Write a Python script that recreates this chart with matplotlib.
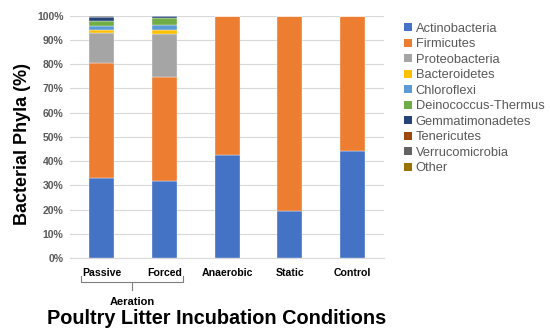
import matplotlib.pyplot as plt
import numpy as np
from matplotlib.patches import Patch

plt.rcParams['font.family'] = ['Liberation Sans', 'DejaVu Sans']

# categories and stacked values (% of phyla)
conditions = ['Passive', 'Forced', 'Anaerobic', 'Static', 'Control']
phyla = ['Actinobacteria', 'Firmicutes', 'Proteobacteria', 'Bacteroidetes',
         'Chloroflexi', 'Deinococcus-Thermus', 'Gemmatimonadetes',
         'Tenericutes', 'Verrucomicrobia', 'Other']
actinobacteria = [33.0, 31.8, 42.5, 19.5, 44.2]
firmicutes = [47.6, 42.9, 57.5, 80.5, 55.8]
proteobacteria = [12.1, 17.6, 0, 0, 0]
bacteroidetes = [1.3, 1.7, 0, 0, 0]
chloroflexi = [1.9, 2.0, 0, 0, 0]
deinococcus = [1.9, 3.0, 0, 0, 0]
gemmatimonadetes = [1.5, 0.7, 0, 0, 0]
tenericutes = [0.3, 0.1, 0, 0, 0]
verrucomicrobia = [0.2, 0.1, 0, 0, 0]
other = [0.2, 0.1, 0, 0, 0]

series = [actinobacteria, firmicutes, proteobacteria, bacteroidetes, chloroflexi,
          deinococcus, gemmatimonadetes, tenericutes, verrucomicrobia, other]
colors = ['#4472C4', '#ED7D31', '#A5A5A5', '#FFC000', '#5B9BD5',
          '#70AD47', '#264478', '#9E480E', '#636363', '#997300']

fig = plt.figure(figsize=(5.5, 3.33), dpi=100)
ax = fig.add_axes([0.128, 0.225, 0.570, 0.728])

x = np.arange(len(conditions))
bottom = np.zeros(len(conditions))
for vals, c in zip(series, colors):
    vals = np.array(vals)
    ax.bar(x, vals, 0.4, bottom=bottom, color=c, edgecolor='white',
           linewidth=0.25, zorder=3)
    bottom += vals

ax.set_xlim(-0.5, 4.5)
ax.set_ylim(0, 100)
ax.set_yticks(np.arange(0, 101, 10))
ax.set_yticklabels([f'{v}%' for v in range(0, 101, 10)], fontsize=7.5,
                   fontweight='bold', color='#595959')
ax.set_xticks(x)
ax.set_xticklabels(conditions, fontsize=7.6, fontweight='bold')
ax.tick_params(axis='both', length=0, pad=5)
ax.tick_params(axis='x', pad=7)
ax.grid(axis='y', color='#D9D9D9', linewidth=0.8, zorder=0)
for s in ['top', 'right', 'left']:
    ax.spines[s].set_visible(False)
ax.spines['bottom'].set_color('#D9D9D9')

ax.set_ylabel('Bacterial Phyla (%)', fontsize=13, fontweight='bold', labelpad=4)
ax.yaxis.label.set_y(0.47)

# bracket for the aeration group
tr = ax.get_xaxis_transform()
xl, xr = x[0] - 0.33, x[1] + 0.29
xm = (xl + xr) / 2
ax.plot([xl, xl, xr, xr], [-0.075, -0.1, -0.1, -0.075], color='#7F7F7F',
        lw=0.8, transform=tr, clip_on=False)
ax.plot([xm, xm], [-0.1, -0.13], color='#7F7F7F', lw=0.8, transform=tr,
        clip_on=False)
ax.text(xm, -0.183, 'Aeration', transform=tr, ha='center', va='center',
        fontsize=8, fontweight='bold')

fig.text(0.393, 0.045, 'Poultry Litter Incubation Conditions', ha='center',
         va='center', fontsize=14.3, fontweight='bold')

handles = [Patch(facecolor=c) for c in colors]
fig.legend(handles, phyla, loc='upper left', bbox_to_anchor=(0.713, 0.966),
           frameon=False, fontsize=9.3, handlelength=0.62, handleheight=0.6,
           handletextpad=0.3, labelspacing=0.27, labelcolor='#595959')

fig.savefig('out.png', dpi=100)
